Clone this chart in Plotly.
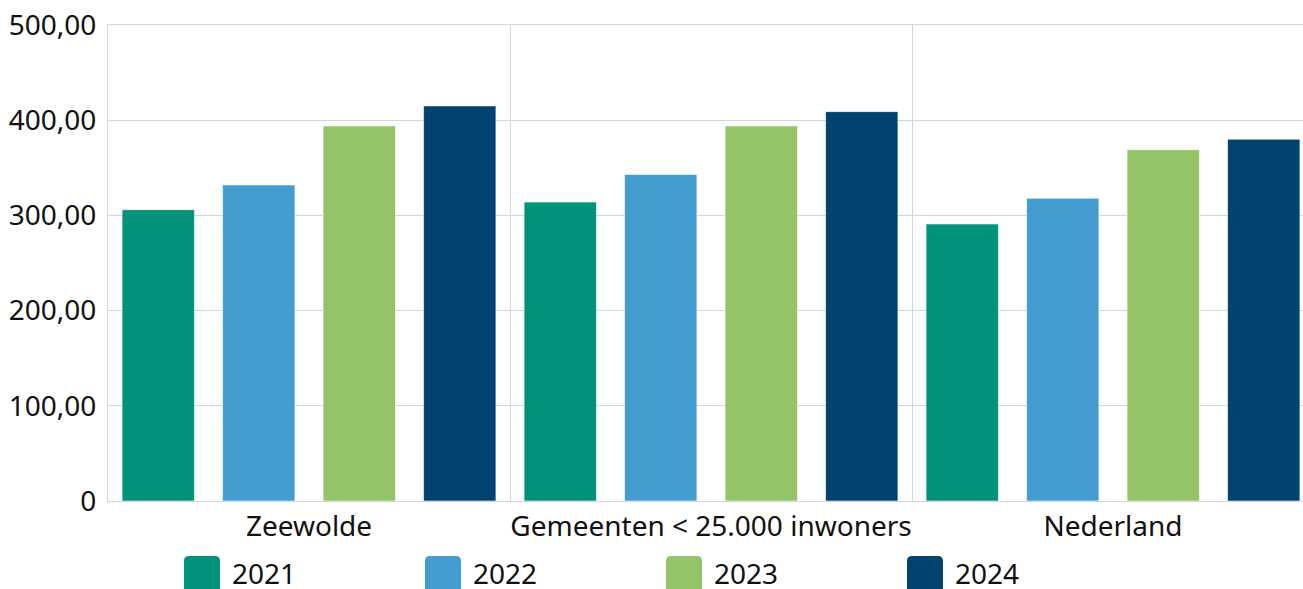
import plotly.graph_objects as go

categories = ["Zeewolde", "Gemeenten < 25.000 inwoners", "Nederland"]
years = ["2021", "2022", "2023", "2024"]
values_2021 = [306, 314, 291]
values_2022 = [332, 343, 318]
values_2023 = [394, 394, 369]
values_2024 = [415, 409, 380]
series_values = [values_2021, values_2022, values_2023, values_2024]
colors = ["#00937a", "#439dd1", "#95c367", "#004270"]
y_tickvals = [0, 100, 200, 300, 400, 500]
y_ticktext = ["0", "100,00", "200,00", "300,00", "400,00", "500,00"]

FONT = "Noto Sans, Open Sans, sans-serif"
GRID = "#cdd6e1"
FS = 28

W, H = 1303, 589
ml, mr, mt, mb = 108, 0, 25, 589 - 501
pw, ph = W - ml - mr, H - mt - mb


def px_x(px):
    return (px - ml) / pw


def px_y(py):
    return (H - mb - py) / ph


fig = go.Figure()
for name, vals, col in zip(years, series_values, colors):
    fig.add_trace(go.Bar(
        x=categories, y=vals, name=name,
        marker=dict(color=col, line=dict(color="rgba(255,255,255,0.6)", width=1)),
        showlegend=False,
    ))

# custom legend (large rounded swatches), positions in page pixels
x0s = [184, 425, 666, 907]
for name, col, x0 in zip(years, colors, x0s):
    r = 5
    x1 = x0 + 36
    y0, y1 = 556, 600
    pts = [(x0 + r, y0), (x1 - r, y0), (x1, y0), (x1, y0 + r), (x1, y1), (x0, y1),
           (x0, y0 + r), (x0, y0), (x0 + r, y0)]
    P = [f"{px_x(a):.5f},{px_y(b):.5f}" for a, b in pts]
    path = (f"M {P[0]} L {P[1]} Q {P[2]} {P[3]} L {P[4]} L {P[5]} L {P[6]} "
            f"Q {P[7]} {P[8]} Z")
    fig.add_shape(type="path", path=path, xref="paper", yref="paper",
                  fillcolor=col, line=dict(width=0), layer="above")
    fig.add_annotation(text=name, x=px_x(x1 + 10), y=px_y(573), xref="paper", yref="paper",
                       xanchor="left", yanchor="middle", showarrow=False,
                       font=dict(family=FONT, size=FS, color="#111"))

right_end = (W - mr - ml) / 402.0 - 0.5

fig.update_layout(
    width=W, height=H,
    margin=dict(l=ml, r=mr, t=mt, b=mb, autoexpand=False),
    paper_bgcolor="white", plot_bgcolor="white",
    barmode="group", bargap=0.0, bargroupgap=0.28,
    font=dict(family=FONT, size=FS, color="#111"),
    xaxis=dict(range=[-0.5, right_end], tickson="boundaries", showgrid=True,
               gridcolor=GRID, gridwidth=1, showline=True, linecolor=GRID,
               mirror=True,
               ticks="", tickangle=0, tickfont=dict(size=FS, color="#111"),
               ticklabelstandoff=0),
    yaxis=dict(range=[0, 500], tickvals=y_tickvals, ticktext=y_ticktext,
               showgrid=True, gridcolor=GRID, gridwidth=1, showline=True,
               linecolor=GRID, zeroline=False, ticks="", ticklabelstandoff=5,
               ticklabeloverflow="allow",
               tickfont=dict(size=FS, color="#111")),
)

fig.write_html(
    "out.html",
    config={"displayModeBar": False},
    post_script="document.body.style.margin='0';document.body.style.overflow='hidden';",
)
